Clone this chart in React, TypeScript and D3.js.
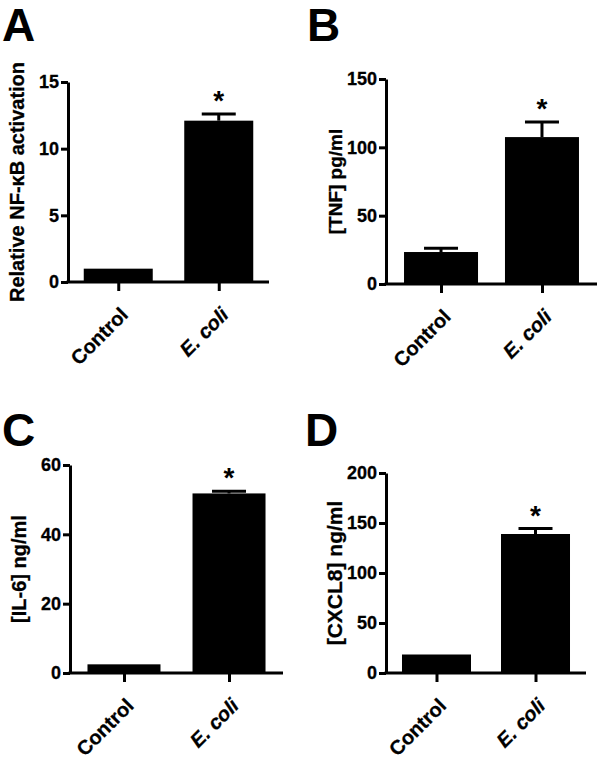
import { useEffect, useRef } from "react";
import * as d3 from "d3";

const categories = ["Control", "E. coli"];

const nfkbMean = [1.0, 12.1];
const nfkbErr = [0, 0.5];
const nfkbTicks = [0, 5, 10, 15];

const tnfMean = [23.4, 107.5];
const tnfErr = [2.8, 11];
const tnfTicks = [0, 50, 100, 150];

const il6Mean = [2.5, 51.8];
const il6Err = [0, 0.6];
const il6Ticks = [0, 20, 40, 60];

const cxcl8Mean = [18.5, 139];
const cxcl8Err = [0, 5.5];
const cxcl8Ticks = [0, 50, 100, 150, 200];

interface PanelSpec {
  letter: string;
  letterX: number;
  letterY: number;
  label: string;
  labelSize: number;
  mean: number[];
  err: number[];
  ticks: number[];
  left: number;
  right: number;
  top: number;
  bottom: number;
  pad: number;
  barW: number;
}

const panels: PanelSpec[] = [
  { letter: "A", letterX: 2, letterY: 41, label: "Relative NF-κB activation", labelSize: 20, mean: nfkbMean, err: nfkbErr, ticks: nfkbTicks, left: 68, right: 269, top: 82, bottom: 282, pad: 0.5, barW: 69 },
  { letter: "B", letterX: 307, letterY: 41, label: "[TNF] pg/ml", labelSize: 19, mean: tnfMean, err: tnfErr, ticks: tnfTicks, left: 386, right: 597, top: 79, bottom: 284, pad: 0.545, barW: 74 },
  { letter: "C", letterX: 2, letterY: 446, label: "[IL-6] ng/ml", labelSize: 20, mean: il6Mean, err: il6Err, ticks: il6Ticks, left: 70, right: 283, top: 465, bottom: 673, pad: 0.514, barW: 73 },
  { letter: "D", letterX: 305, letterY: 446, label: "[CXCL8] ng/ml", labelSize: 21, mean: cxcl8Mean, err: cxcl8Err, ticks: cxcl8Ticks, left: 386, right: 586, top: 473, bottom: 673, pad: 0.51, barW: 69 },
];

const FONT = "'Liberation Sans', Arial, sans-serif";

export default function App() {
  const svgRef = useRef<SVGSVGElement>(null);

  useEffect(() => {
    if (!svgRef.current) return;
    const svg = d3.select(svgRef.current);
    svg.selectAll("*").remove();

    panels.forEach((p) => {
      const g = svg
        .append("g")
        .attr("font-family", FONT)
        .attr("font-weight", "bold");

      const x = d3.scalePoint<string>().domain(categories).range([p.left, p.right]).padding(p.pad);
      const y = d3
        .scaleLinear()
        .domain([0, p.ticks[p.ticks.length - 1]])
        .range([p.bottom, p.top]);

      // panel letter
      g.append("text")
        .attr("x", p.letterX)
        .attr("y", p.letterY)
        .attr("font-size", 46)
        .text(p.letter);

      // bars
      g.selectAll(".bar")
        .data(p.mean)
        .enter()
        .append("rect")
        .attr("x", (_, i) => (x(categories[i]) ?? 0) - p.barW / 2)
        .attr("y", (d) => y(d))
        .attr("width", p.barW)
        .attr("height", (d) => p.bottom - y(d))
        .attr("fill", "#000");

      // error bars
      p.mean.forEach((m, i) => {
        if (p.err[i] <= 0) return;
        const cx = x(categories[i]) ?? 0;
        g.append("line")
          .attr("x1", cx)
          .attr("x2", cx)
          .attr("y1", y(m))
          .attr("y2", y(m + p.err[i]))
          .attr("stroke", "#000")
          .attr("stroke-width", 3);
        g.append("line")
          .attr("x1", cx - 17)
          .attr("x2", cx + 17)
          .attr("y1", y(m + p.err[i]))
          .attr("y2", y(m + p.err[i]))
          .attr("stroke", "#000")
          .attr("stroke-width", 3);
      });

      // asterisk over E. coli
      const ec = x(categories[1]) ?? 0;
      g.append("text")
        .attr("x", ec)
        .attr("y", y(p.mean[1] + p.err[1]) - 4)
        .attr("text-anchor", "middle")
        .attr("font-size", 28)
        .text("*");

      // y axis
      const yAxis = g
        .append("g")
        .attr("transform", `translate(${p.left},0)`)
        .call(d3.axisLeft(y).tickValues(p.ticks).tickSize(7).tickPadding(2).tickSizeOuter(0));
      yAxis.select(".domain").attr("stroke-width", 3).attr("stroke", "#000");
      yAxis.selectAll(".tick line").attr("stroke-width", 3).attr("stroke", "#000");
      yAxis
        .selectAll(".tick text")
        .attr("font-size", 18)
        .attr("font-family", FONT)
        .attr("font-weight", "bold")
        .attr("fill", "#000")
        .attr("stroke", "#000")
        .attr("stroke-width", 0.3);

      // x axis
      const xAxis = g
        .append("g")
        .attr("transform", `translate(0,${p.bottom})`)
        .call(d3.axisBottom(x).tickSize(9).tickSizeOuter(0).tickFormat(() => ""));
      xAxis.select(".domain").attr("stroke-width", 3).attr("stroke", "#000").attr("d", `M${p.left - 1.5},0H${p.right}`);
      xAxis.selectAll(".tick line").attr("stroke-width", 3).attr("stroke", "#000");

      // category labels, rotated
      categories.forEach((c) => {
        const cx = x(c) ?? 0;
        g.append("text")
          .attr("transform", `translate(${cx + 11},${p.bottom + 34}) rotate(-45)`)
          .attr("text-anchor", "end")
          .attr("font-size", 20)
          .attr("font-style", c === "E. coli" ? "italic" : "normal")
          .attr("stroke", "#000")
          .attr("stroke-width", 0.3)
          .text(c);
      });

      // y axis label
      g.append("text")
        .attr("transform", `translate(${p.left - 44},${(p.top + p.bottom) / 2}) rotate(-90)`)
        .attr("text-anchor", "middle")
        .attr("font-size", p.labelSize)
        .attr("stroke", "#000")
        .attr("stroke-width", 0.3)
        .text(p.label);
    });

    return () => {
      svg.selectAll("*").remove();
    };
  }, []);

  return (
    <svg
      ref={svgRef}
      width={600}
      height={766}
      style={{ position: "absolute", left: 0, top: 0, background: "#fff" }}
    />
  );
}
